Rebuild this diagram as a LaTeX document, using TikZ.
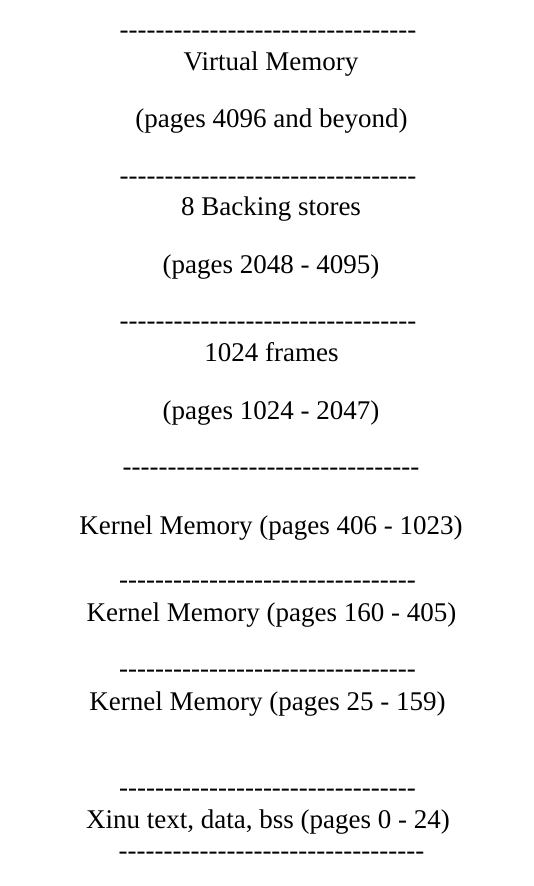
\documentclass[tikz,border=0pt]{standalone}
\usepackage{fontspec}
\setmainfont{Liberation Serif}[Ligatures=TeXOff]
\begin{document}
\begin{tikzpicture}[x=1pt,y=-1pt,
  lbl/.style={anchor=base,inner sep=0pt,font=\fontsize{27}{32}\selectfont},
  rule/.style={lbl}]
\useasboundingbox (0,0) rectangle (533,886);
\def\rulea{---------------------------------}
\def\ruleb{----------------------------------}
\node[rule] (r1) at (268,38) {\rulea};
\node[lbl] (vm) at (271,70) {Virtual Memory};
\node[lbl] (vmp) at (271.5,127) {(pages 4096 and beyond)};
\node[rule] (r2) at (268,184) {\rulea};
\node[lbl] (bs) at (271,215) {8 Backing stores};
\node[lbl] (bsp) at (271,273) {(pages 2048 - 4095)};
\node[rule] (r3) at (268,329) {\rulea};
\node[lbl] (fr) at (271.5,361) {1024 frames};
\node[lbl] (frp) at (271,419) {(pages 1024 - 2047)};
\node[rule] (r4) at (271,475) {\rulea};
\node[lbl] (k1) at (271,534) {Kernel Memory (pages 406 - 1023)};
\node[rule] (r5) at (267.5,588) {\rulea};
\node[lbl] (k2) at (271.5,621) {Kernel Memory (pages 160 - 405)};
\node[rule] (r6) at (267.5,677) {\rulea};
\node[lbl] (k3) at (267.5,710) {Kernel Memory (pages 25 - 159)};
\node[rule] (r7) at (267.5,796) {\rulea};
\node[lbl] (xt) at (268,828) {Xinu text, data, bss (pages 0 - 24)};
\node[rule] (r8) at (271.5,859) {\ruleb};
\end{tikzpicture}
\end{document}
